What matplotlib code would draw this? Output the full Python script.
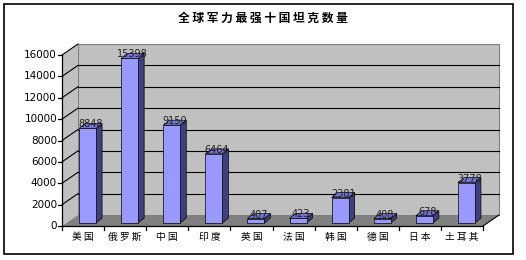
import matplotlib
matplotlib.use('Agg')
import matplotlib.pyplot as plt
from matplotlib.patches import Polygon, Rectangle

plt.rcParams['font.family'] = ['Noto Sans CJK SC', 'DejaVu Sans']

countries = ['美国', '俄罗斯', '中国', '印度', '英国', '法国', '韩国', '德国', '日本', '土耳其']
tanks = [8848, 15398, 9150, 6464, 407, 423, 2381, 408, 678, 3778]
yticks = [0, 2000, 4000, 6000, 8000, 10000, 12000, 14000, 16000]
title = '全球军力最强十国坦克数量'

W, H = 526, 260
fig = plt.figure(figsize=(W / 100, H / 100), dpi=100)
fig.patch.set_facecolor('white')

# front plane of the plot box, in pixels
L, R, B, T = 62, 483, 226, 55
ax = fig.add_axes([L / W, 1 - B / H, (R - L) / W, (B - T) / H])
n = len(countries)
ymax = yticks[-1]
ax.set_xlim(-0.5, n - 0.5)
ax.set_ylim(0, ymax)
ax.axis('off')

# data units per pixel
ux = n / (R - L)
uy = ymax / (B - T)

# depth of the box and of the bars
wdx, wdy = 16 * ux, 11 * uy
bdx, bdy = 6 * ux, 5 * uy
bsx, bsy = 4.5 * ux, 3 * uy
bw = 17 * ux

x0, x1 = -0.5, n - 0.5

def poly(pts, **kw):
    p = Polygon(pts, closed=True, clip_on=False, **kw)
    ax.add_patch(p)
    return p

# walls and floor
poly([(x0 + wdx, wdy), (x1 + wdx, wdy), (x1 + wdx, ymax + wdy), (x0 + wdx, ymax + wdy)],
     fc='#C0C0C0', ec='#808080', lw=0.8, zorder=1)
poly([(x0, 0), (x0 + wdx, wdy), (x0 + wdx, ymax + wdy), (x0, ymax)],
     fc='#C0C0C0', ec='none', zorder=1)
poly([(x0, 0), (x1, 0), (x1 + wdx, wdy), (x0 + wdx, wdy)],
     fc='#808080', ec='none', zorder=1)

# gridlines on back and side walls
for v in yticks[1:]:
    if v < ymax:
        ax.plot([x0 + wdx, x1 + wdx], [v + wdy, v + wdy], color='black', lw=0.8,
                clip_on=False, zorder=2)
    ax.plot([x0, x0 + wdx], [v, v + wdy], color='black', lw=0.8, clip_on=False, zorder=2)

# floor right edge and axes lines
ax.plot([x1, x1 + wdx], [0, wdy], color='black', lw=0.8, clip_on=False, zorder=2)
ax.plot([x0, x1], [0, 0], color='black', lw=0.9, clip_on=False, zorder=2)
ax.plot([x0, x0], [0, ymax], color='black', lw=0.9, clip_on=False, zorder=2)

# y ticks and labels
for v in yticks:
    ax.plot([x0 - 4 * ux, x0], [v, v], color='black', lw=0.9, clip_on=False, zorder=2)
    ax.text(x0 - 5 * ux, v, str(v), ha='right', va='center', fontsize=7.5,
            family='DejaVu Sans', color='black')

# x ticks at category boundaries and labels
for k in range(n + 1):
    xb = x0 + k
    ax.plot([xb, xb], [0, -4 * uy], color='black', lw=0.9, clip_on=False, zorder=2)
for i, name in enumerate(countries):
    ax.text(i, -11 * uy, ' '.join(name), ha='center', va='center', fontsize=7,
            fontweight='medium', color='black')

# 3D bars
front_c, side_c, top_c = '#9999FF', '#404080', '#7373D0'
for i, v in enumerate(tanks):
    bx = i - bw / 2 + bsx
    by = bsy
    poly([(bx + bw, by), (bx + bw + bdx, by + bdy), (bx + bw + bdx, by + v + bdy), (bx + bw, by + v)],
         fc=side_c, ec='black', lw=0.5, zorder=3)
    poly([(bx, by + v), (bx + bw, by + v), (bx + bw + bdx, by + v + bdy), (bx + bdx, by + v + bdy)],
         fc=top_c, ec='black', lw=0.5, zorder=3)
    ax.add_patch(Rectangle((bx, by), bw, v, fc=front_c, ec='black', lw=0.5,
                           clip_on=False, zorder=3))
    ax.text(bx + bw / 2 + bdx / 2, by + v + bdy - 1 * uy, str(v), ha='center', va='center',
            fontsize=7, family='DejaVu Sans', color='#222222', zorder=4)

# title
fig.text(263 / W, 1 - 18 / H, ' '.join(title), ha='center', va='center',
         fontsize=8.5, fontweight='heavy', color='black')

# outer frame
fig.add_artist(Rectangle((4 / W, 1 - 254 / H), (513 - 4) / W, (254 - 4) / H,
                         transform=fig.transFigure, fill=False, ec='black', lw=1.2))

fig.savefig('out.png', dpi=100)
